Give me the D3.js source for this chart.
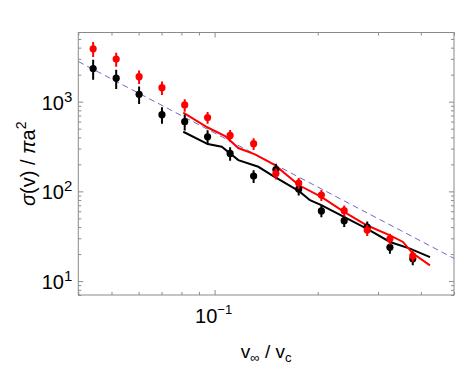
<!DOCTYPE html>
<html>
<head>
<meta charset="utf-8">
<script src="https://cdn.jsdelivr.net/npm/d3@7"></script>
<style>
  body { margin: 0; background: #fff; }
  svg text { font-family: "Liberation Sans", Arial, Helvetica, sans-serif; }
</style>
</head>
<body>
<div id="chart"></div>
<script>
// Measured cross sections (dots with error bars)
const vDots = [0.0442, 0.0516, 0.0602, 0.0702, 0.0818, 0.0954, 0.111, 0.130, 0.151, 0.176, 0.205, 0.239, 0.279, 0.325, 0.379];
const redDots = [3880, 2980, 1900, 1430, 920, 666, 420, 340, 158, 124, 91, 61, 37, 29.6, 19.1];
const redErr = [0.19, 0.18, 0.17, 0.17, 0.16, 0.15, 0.15, 0.15, 0.14, 0.14, 0.14, 0.14, 0.14, 0.14, 0.14];
const blackDots = [2340, 1825, 1210, 716, 598, 406, 265, 148, 175, 106, 60.5, 47.1, 40.1, 23.8, 17.7];
const blackErr = [0.25, 0.24, 0.22, 0.21, 0.2, 0.18, 0.17, 0.16, 0.16, 0.15, 0.15, 0.15, 0.15, 0.15, 0.15];

// Model curves
const vRedLine = [0.0810, 0.0955, 0.1073, 0.1173, 0.1312, 0.1501, 0.1764, 0.2049, 0.2387, 0.2781, 0.3252, 0.3549, 0.3788, 0.4255];
const redLine = [753, 515, 414, 304, 259, 196, 117, 86.8, 59.0, 41.9, 32.4, 27.3, 20.4, 15.0];
const vBlackLine = [0.0810, 0.0955, 0.1049, 0.1173, 0.1342, 0.1468, 0.1764, 0.1899, 0.2049, 0.2387, 0.2781, 0.3252, 0.3719, 0.4255];
const blackLine = [462, 337, 314, 223, 188, 152, 100.5, 79.7, 70.2, 51.9, 38.5, 27.3, 23.0, 18.5];

// Dashed reference line (end points)
const vDash = [0.04, 0.5];
const dashLine = [2800, 17.9];

// Ticks
const xTicks = [0.04, 0.05, 0.06, 0.07, 0.08, 0.09, 0.1, 0.2, 0.3, 0.4, 0.5];
const xMajor = [0.1];
const xLabels = [{v: 0.1, base: '10', exp: '\u22121'}];
const yTicks = [7, 8, 9, 10, 20, 30, 40, 50, 60, 70, 80, 90, 100, 200, 300, 400, 500, 600, 700, 800, 900, 1000, 2000, 3000, 4000, 5000];
const yMajor = [10, 100, 1000];
const yLabels = [{v: 10, base: '10', exp: '1'}, {v: 100, base: '10', exp: '2'}, {v: 1000, base: '10', exp: '3'}];

const width = 458, height = 366;
const L = 78.3, R = 454, T = 32.5, B = 295;
const frameColor = '#8a8a8a';

const svg = d3.select('#chart').append('svg')
  .attr('width', width)
  .attr('height', height);

const x = d3.scaleLog().domain([0.04, 0.5]).range([L, R]);
const y = d3.scaleLog().domain([7, 5900]).range([B, T]);

svg.append('clipPath').attr('id', 'plot-clip')
  .append('rect').attr('x', L).attr('y', T).attr('width', R - L).attr('height', B - T);

// Axes (ticks pointing inward, on all four sides)
function tickLen(list) {
  return d => list.some(m => Math.abs(m - d) / m < 1e-6) ? 5 : 3;
}
const xLen = tickLen(xMajor), yLen = tickLen(yMajor);

const gB = svg.append('g').attr('transform', `translate(0,${B})`)
  .call(d3.axisBottom(x).tickValues(xTicks).tickFormat('').tickSizeOuter(0));
gB.selectAll('.tick line').attr('y2', d => -xLen(d));
const gT = svg.append('g').attr('transform', `translate(0,${T})`)
  .call(d3.axisTop(x).tickValues(xTicks).tickFormat('').tickSizeOuter(0));
gT.selectAll('.tick line').attr('y2', d => xLen(d));
const gL = svg.append('g').attr('transform', `translate(${L},0)`)
  .call(d3.axisLeft(y).tickValues(yTicks).tickFormat('').tickSizeOuter(0));
gL.selectAll('.tick line').attr('x2', d => yLen(d));
const gR = svg.append('g').attr('transform', `translate(${R},0)`)
  .call(d3.axisRight(y).tickValues(yTicks).tickFormat('').tickSizeOuter(0));
gR.selectAll('.tick line').attr('x2', d => -yLen(d));

[gB, gT, gL, gR].forEach(g => {
  g.select('.domain').remove();
  g.selectAll('.tick line').attr('stroke', frameColor).attr('stroke-width', 1);
});

svg.append('rect')
  .attr('x', L).attr('y', T).attr('width', R - L).attr('height', B - T)
  .attr('fill', 'none').attr('stroke', frameColor).attr('stroke-width', 1);

// Tick labels
svg.selectAll('.ylab').data(yLabels).join('text')
  .attr('class', 'ylab')
  .attr('x', L - 6)
  .attr('y', d => y(d.v) + 8)
  .attr('text-anchor', 'end')
  .attr('font-size', 20)
  .each(function(d) {
    const t = d3.select(this);
    t.append('tspan').text(d.base);
    t.append('tspan').attr('font-size', 15).attr('dy', -8).text(d.exp);
  });

svg.selectAll('.xlab').data(xLabels).join('text')
  .attr('class', 'xlab')
  .attr('x', d => x(d.v) - 1)
  .attr('y', B + 28)
  .attr('text-anchor', 'middle')
  .attr('font-size', 20)
  .each(function(d) {
    const t = d3.select(this);
    t.append('tspan').text(d.base);
    t.append('tspan').attr('font-size', 13).attr('dy', -9).text(d.exp);
  });

// Axis titles
const xt = svg.append('text')
  .attr('x', (L + R) / 2)
  .attr('y', 358)
  .attr('text-anchor', 'middle')
  .attr('font-size', 19);
xt.append('tspan').text('v');
xt.append('tspan').attr('font-size', 13).attr('dy', 4).text('\u221e');
xt.append('tspan').attr('dy', -4).text(' / v');
xt.append('tspan').attr('font-size', 13).attr('dy', 4).text('c');

const yt = svg.append('text')
  .attr('transform', `translate(35,${(T + B) / 2}) rotate(-90)`)
  .attr('text-anchor', 'middle')
  .attr('font-size', 20);
yt.append('tspan').attr('font-style', 'italic').text('\u03c3');
yt.append('tspan').text('(v) / ');
yt.append('tspan').attr('font-style', 'italic').text('\u03c0');
yt.append('tspan').text('a');
yt.append('tspan').attr('font-size', 14).attr('dy', -9).text('2');

// Plot content
const plot = svg.append('g').attr('clip-path', 'url(#plot-clip)');
const line = d3.line().x(d => x(d[0])).y(d => y(d[1]));

plot.append('path')
  .datum(d3.zip(vDash, dashLine))
  .attr('d', line)
  .attr('fill', 'none')
  .attr('stroke', '#6b6bc4')
  .attr('stroke-width', 1)
  .attr('stroke-dasharray', '6,4');

plot.append('path')
  .datum(d3.zip(vBlackLine, blackLine))
  .attr('d', line)
  .attr('fill', 'none')
  .attr('stroke', '#000')
  .attr('stroke-width', 2);

plot.append('path')
  .datum(d3.zip(vRedLine, redLine))
  .attr('d', line)
  .attr('fill', 'none')
  .attr('stroke', '#ff0000')
  .attr('stroke-width', 2);

function drawDots(vals, errs, color) {
  const g = plot.append('g');
  const pts = d3.zip(vDots, vals, errs);
  g.selectAll('line').data(pts).join('line')
    .attr('x1', d => x(d[0])).attr('x2', d => x(d[0]))
    .attr('y1', d => y(d[1] * (1 - d[2])))
    .attr('y2', d => y(d[1] * (1 + d[2])))
    .attr('stroke', color)
    .attr('stroke-width', 2);
  g.selectAll('circle').data(pts).join('circle')
    .attr('cx', d => x(d[0]))
    .attr('cy', d => y(d[1]))
    .attr('r', 3.6)
    .attr('fill', color);
}
drawDots(blackDots, blackErr, '#000');
drawDots(redDots, redErr, '#ff0000');
</script>
</body>
</html>
